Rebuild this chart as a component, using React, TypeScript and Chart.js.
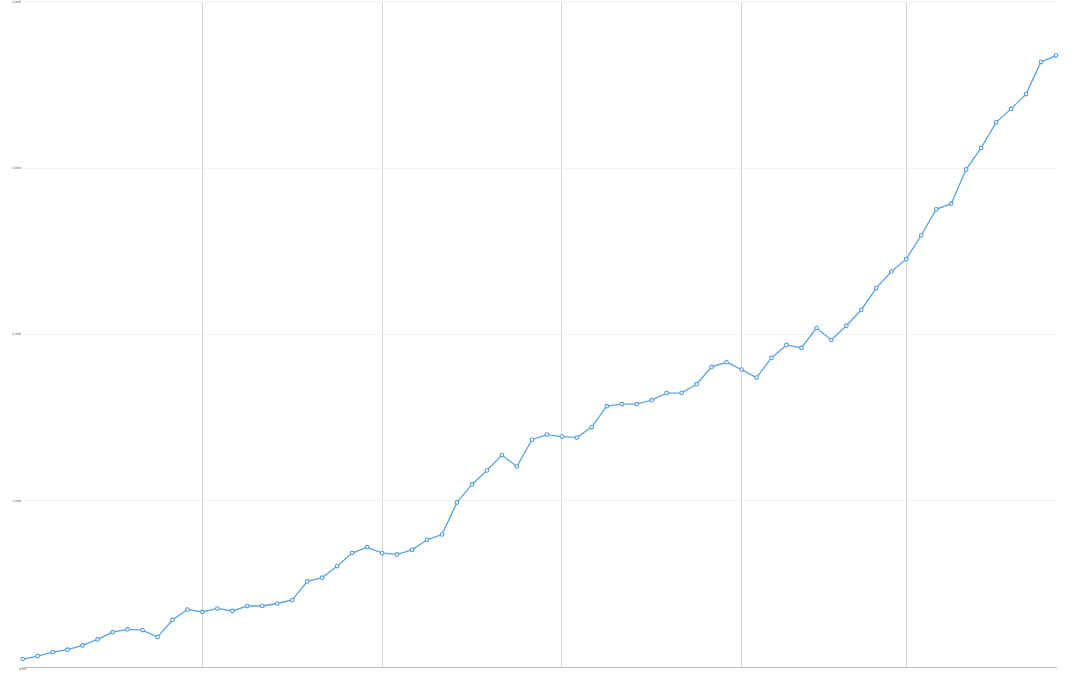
import React, { useEffect, useRef } from "react";
import { Chart, registerables } from "chart.js";

Chart.register(...registerables);

const CATEGORIES: string[] = [
  "P1", "P2", "P3", "P4", "P5", "P6", "P7", "P8", "P9", "P10",
  "P11", "P12", "P13", "P14", "P15", "P16", "P17", "P18", "P19", "P20",
  "P21", "P22", "P23", "P24", "P25", "P26", "P27", "P28", "P29", "P30",
  "P31", "P32", "P33", "P34", "P35", "P36", "P37", "P38", "P39", "P40",
  "P41", "P42", "P43", "P44", "P45", "P46", "P47", "P48", "P49", "P50",
  "P51", "P52", "P53", "P54", "P55", "P56", "P57", "P58", "P59", "P60",
  "P61", "P62", "P63", "P64", "P65", "P66", "P67", "P68", "P69", "P70",
];

const VALUES: number[] = [
  48, 66, 90, 104, 130, 166, 210, 226, 222, 180,
  283, 346, 331, 352, 337, 367, 367, 382, 403, 515,
  537, 607, 685, 721, 685, 677, 705, 765, 797, 990,
  1098, 1182, 1275, 1206, 1367, 1398, 1386, 1380, 1443, 1569,
  1581, 1581, 1605, 1647, 1649, 1701, 1805, 1833, 1789, 1741,
  1859, 1937, 1919, 2039, 1967, 2053, 2149, 2279, 2379, 2453,
  2597, 2753, 2787, 2993, 3122, 3276, 3357, 3446, 3640, 3678,
];

const X_AXIS_LABEL = "Date";
const GRID_INDEXES: number[] = [12, 24, 36, 48, 59];
const Y_TICKS: number[] = [0, 1000, 2000, 3000, 4000];

export default function App() {
  const ref = useRef<HTMLCanvasElement | null>(null);

  useEffect(() => {
    document.body.style.margin = "0";
    const canvas = ref.current;
    if (!canvas) return;
    const chart = new Chart(canvas, {
      type: "line",
      data: {
        labels: CATEGORIES,
        datasets: [
          {
            data: VALUES,
            borderColor: "#5aa2e6",
            borderWidth: 1.3,
            pointRadius: 1.8,
            pointBorderWidth: 1.1,
            pointBackgroundColor: "#ffffff",
            pointBorderColor: "#4f9be3",
            tension: 0,
            clip: false,
          },
        ],
      },
      options: {
        responsive: false,
        animation: false,
        layout: { autoPadding: false, padding: { top: 2, right: 16, left: 0, bottom: 0 } },
        plugins: { legend: { display: false }, tooltip: { enabled: false } },
        scales: {
          x: {
            type: "category",
            offset: false,
            grid: {
              drawTicks: false,
              color: (ctx: any) =>
                GRID_INDEXES.includes(ctx.index) ? "#d6d6d6" : "rgba(0,0,0,0)",
              lineWidth: 1,
            },
            border: { display: true, color: "#b8b8b8", width: 1 },
            ticks: {
              autoSkip: false,
              maxRotation: 0,
              minRotation: 0,
              padding: 1,
              color: "#666",
              font: { size: 3, family: "DejaVu Sans", lineHeight: 1 },
              callback: (_v: any, i: number) => (i === 0 ? X_AXIS_LABEL : ""),
            },
            afterFit: (scale: any) => {
              scale.height = 7;
            },
          },
          y: {
            min: Y_TICKS[0],
            max: Y_TICKS[Y_TICKS.length - 1],
            afterBuildTicks: (scale: any) => {
              scale.ticks = Y_TICKS.map((v) => ({ value: v }));
            },
            grid: { drawTicks: false, color: "#f1f1f1", lineWidth: 1 },
            border: { display: false },
            ticks: {
              padding: 0,
              color: "#555",
              font: { size: 3, family: "DejaVu Sans", lineHeight: 1 },
              callback: (v: any) =>
                v === 0 ? "" : Number(v).toLocaleString("en-US") + "  ",
            },
            afterFit: (scale: any) => {
              scale.width = 22.7;
            },
          },
        },
      },
    } as any);
    return () => chart.destroy();
  }, []);

  return (
    <div style={{ width: 1072, height: 674 }}>
      <canvas ref={ref} width={1072} height={674} style={{ display: "block" }} />
    </div>
  );
}
